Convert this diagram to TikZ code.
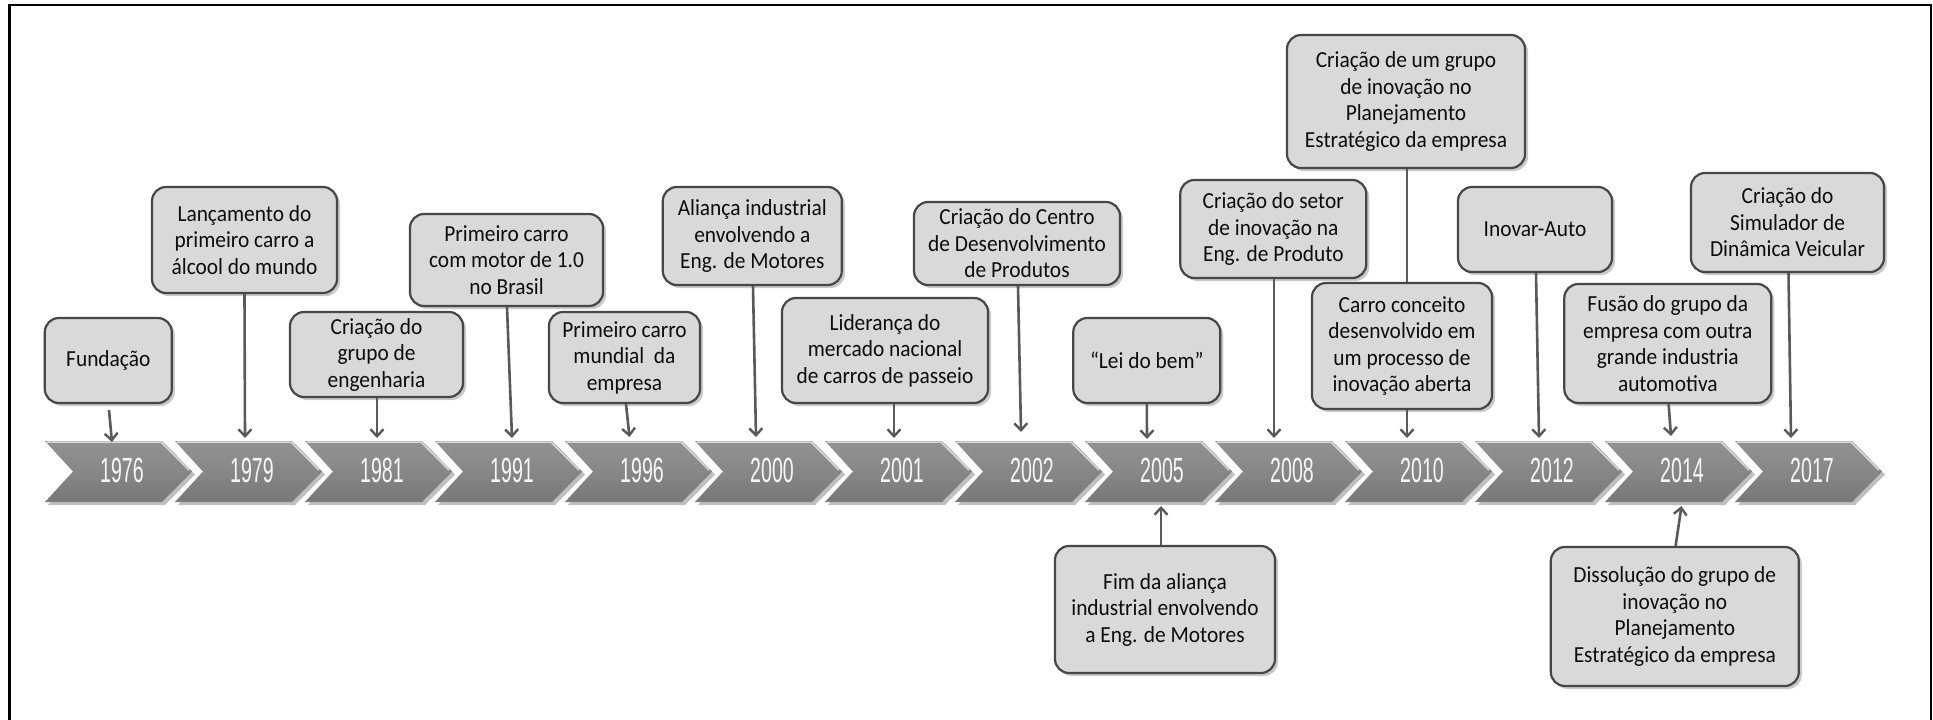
\documentclass[tikz,border=0pt]{standalone}
\usepackage{fontspec}
\setmainfont{Carlito}[FakeStretch=0.93]
\newfontfamily\yearfont{Liberation Sans}[FakeStretch=0.56]
\usetikzlibrary{arrows.meta,shadows}

\definecolor{boxfill}{HTML}{D9D9D9}
\definecolor{boxline}{HTML}{474747}
\definecolor{linkgray}{HTML}{595959}
\definecolor{chevtop}{HTML}{929292}
\definecolor{chevmid}{HTML}{878787}
\definecolor{chevbot}{HTML}{777777}
\definecolor{yeartext}{HTML}{F6F6F6}
\definecolor{bodytext}{HTML}{0D0D0D}

\tikzset{
  evt/.style={draw=boxline, line width=2.2pt, fill=boxfill, rounded corners=14pt,
    inner sep=0pt, align=center, text=bodytext,
    font=\fontsize{23}{26.5}\selectfont,
    drop shadow={shadow xshift=3pt, shadow yshift=-3pt, opacity=0.35, fill=black!60}},
  link/.style={draw=linkgray, line width=2.6pt,
    -{Straight Barb[length=7pt,width=13pt,line width=2.4pt]}},
  plainlink/.style={draw=linkgray, line width=2.6pt},
  yearlabel/.style={text=yeartext, inner sep=0pt,
    font=\yearfont\fontsize{35}{35}\selectfont},
}

\begin{document}
\begin{tikzpicture}[x=1pt,y=-1pt]
\useasboundingbox (0,0) rectangle (1933,720);
\fill[white] (0,0) rectangle (1933,720);
% outer frame
\draw[black, line width=2.4pt] (9.5,5) rectangle (1931,726);

% chevron band with year labels
\foreach \yr [count=\i from 0] in {1976,1979,1981,1991,1996,2000,2001,2002,2005,2008,2010,2012,2014,2017}{
  \pgfmathsetmacro{\L}{45+130*\i}
  \fill[black, opacity=0.25] (\L+3,444) -- ++(117,0) -- ++(30,30.5) -- ++(-30,30.5) -- ++(-117,0) -- ++(28,-30.5) -- cycle;
  \shade[top color=chevtop, bottom color=chevbot, middle color=chevmid]
    (\L,441) -- ++(117,0) -- ++(30,30.5) -- ++(-30,30.5) -- ++(-117,0) -- ++(28,-30.5) -- cycle;
  \draw[white!70!gray, line width=1.5pt] (\L+2,442) -- (\L+116,442) -- (\L+144,470);
  \draw[black!50, line width=1pt] (\L+145,473) -- (\L+117,501) -- (\L+2,501);
  \node[yearlabel] (y\yr) at (\L+77,470.8) {\yr};
}

% arrow end points on the band
\coordinate (t1976) at (112,442);
\coordinate (t1979) at (245,438);
\coordinate (t1981) at (377,438);
\coordinate (t1991) at (512,438);
\coordinate (t1996) at (629.5,437);
\coordinate (t2000) at (756,437);
\coordinate (t2001) at (894,438);
\coordinate (t2002) at (1021,432);
\coordinate (t2005a) at (1147,439);
\coordinate (t2008) at (1274,438);
\coordinate (t2010) at (1407,438);
\coordinate (t2012) at (1539,438);
\coordinate (t2014a) at (1671,436);
\coordinate (t2017) at (1791,438);
\coordinate (t2005b) at (1161,506);
\coordinate (t2014b) at (1681.5,506);

% events above the band
\node[evt, minimum width=127pt, minimum height=85pt] (e1976) at (108.3,360.5) {Fundação};
\node[evt, minimum width=185pt, minimum height=106pt] (e1979) at (244.5,240) {Lançamento do\\primeiro carro a\\álcool do mundo};
\node[evt, minimum width=173pt, minimum height=85pt] (e1981) at (376.5,354.5) {Criação do\\grupo de\\engenharia};
\node[evt, minimum width=193pt, minimum height=92pt] (e1991) at (506.5,260) {Primeiro carro\\com motor de 1.0\\no Brasil};
\node[evt, minimum width=151pt, minimum height=91pt] (e1996) at (624.5,357.5) {Primeiro carro\\mundial~ da\\empresa};
\node[evt, minimum width=179pt, minimum height=98pt] (e2000) at (752.3,236) {Aliança industrial\\envolvendo a\\Eng. de Motores};
\node[evt, minimum width=206pt, minimum height=105pt] (e2001) at (885,350.5) {Liderança do\\mercado nacional\\de carros de passeio};
\node[evt, minimum width=206pt, minimum height=83pt] (e2002) at (1017,243.5) {Criação do Centro\\de Desenvolvimento\\de Produtos};
\node[evt, minimum width=147pt, minimum height=85pt] (e2005a) at (1146.8,360.5) {“Lei do bem”};
\node[evt, minimum width=186pt, minimum height=98pt] (e2008) at (1273.3,229) {Criação do setor\\de inovação na\\Eng. de Produto};
\node[evt, minimum width=238pt, minimum height=133pt] (e2010a) at (1406,101.5) {Criação de um grupo\\de inovação no\\Planejamento\\Estratégico da empresa};
\node[evt, minimum width=180pt, minimum height=126pt] (e2010b) at (1402,346) {Carro conceito\\desenvolvido em\\um processo de\\inovação aberta};
\node[evt, minimum width=154pt, minimum height=85pt] (e2012) at (1535,229.5) {Inovar-Auto};
\node[evt, minimum width=207pt, minimum height=119pt] (e2014a) at (1667.8,343.5) {Fusão do grupo da\\empresa com outra\\grande industria\\automotiva};
\node[evt, minimum width=193pt, minimum height=99pt] (e2017) at (1787.5,222.5) {Criação do\\Simulador de\\Dinâmica Veicular};

% events below the band
\node[evt, minimum width=220pt, minimum height=127pt] (e2005b) at (1165,609.5) {Fim da aliança\\industrial envolvendo\\a Eng. de Motores};
\node[evt, minimum width=248pt, minimum height=139pt] (e2014b) at (1674.8,616.5) {Dissolução do grupo de\\inovação no\\Planejamento\\Estratégico da empresa};

% connectors
\draw[link] ([xshift=0.7pt,yshift=-6pt]e1976.south) -- (t1976);
\draw[link] (e1979.south) -- (t1979);
\draw[link] ([xshift=0.5pt]e1981.south) -- (t1981);
\draw[link] ([xshift=0.5pt]e1991.south) -- (t1991);
\draw[link] ([xshift=1.5pt]e1996.south) -- (t1996);
\draw[link] ([xshift=0.7pt]e2000.south) -- (t2000);
\draw[link] ([xshift=9pt]e2001.south) -- (t2001);
\draw[link] ([xshift=1pt]e2002.south) -- (t2002);
\draw[link] (e2005a.south) -- (t2005a);
\draw[link] ([xshift=0.7pt]e2008.south) -- (t2008);
\draw[plainlink] ([xshift=1pt]e2010a.south) -- ([xshift=5pt]e2010b.north);
\draw[link] ([xshift=5pt]e2010b.south) -- (t2010);
\draw[link] ([xshift=1pt]e2012.south) -- (t2012);
\draw[link] ([xshift=0.8pt]e2014a.south) -- (t2014a);
\draw[link] ([xshift=1pt]e2017.south) -- (t2017);
\draw[link] ([xshift=-4pt]e2005b.north) -- (t2005b);
\draw[link] ([xshift=0.8pt]e2014b.north) -- (t2014b);
\end{tikzpicture}
\end{document}
